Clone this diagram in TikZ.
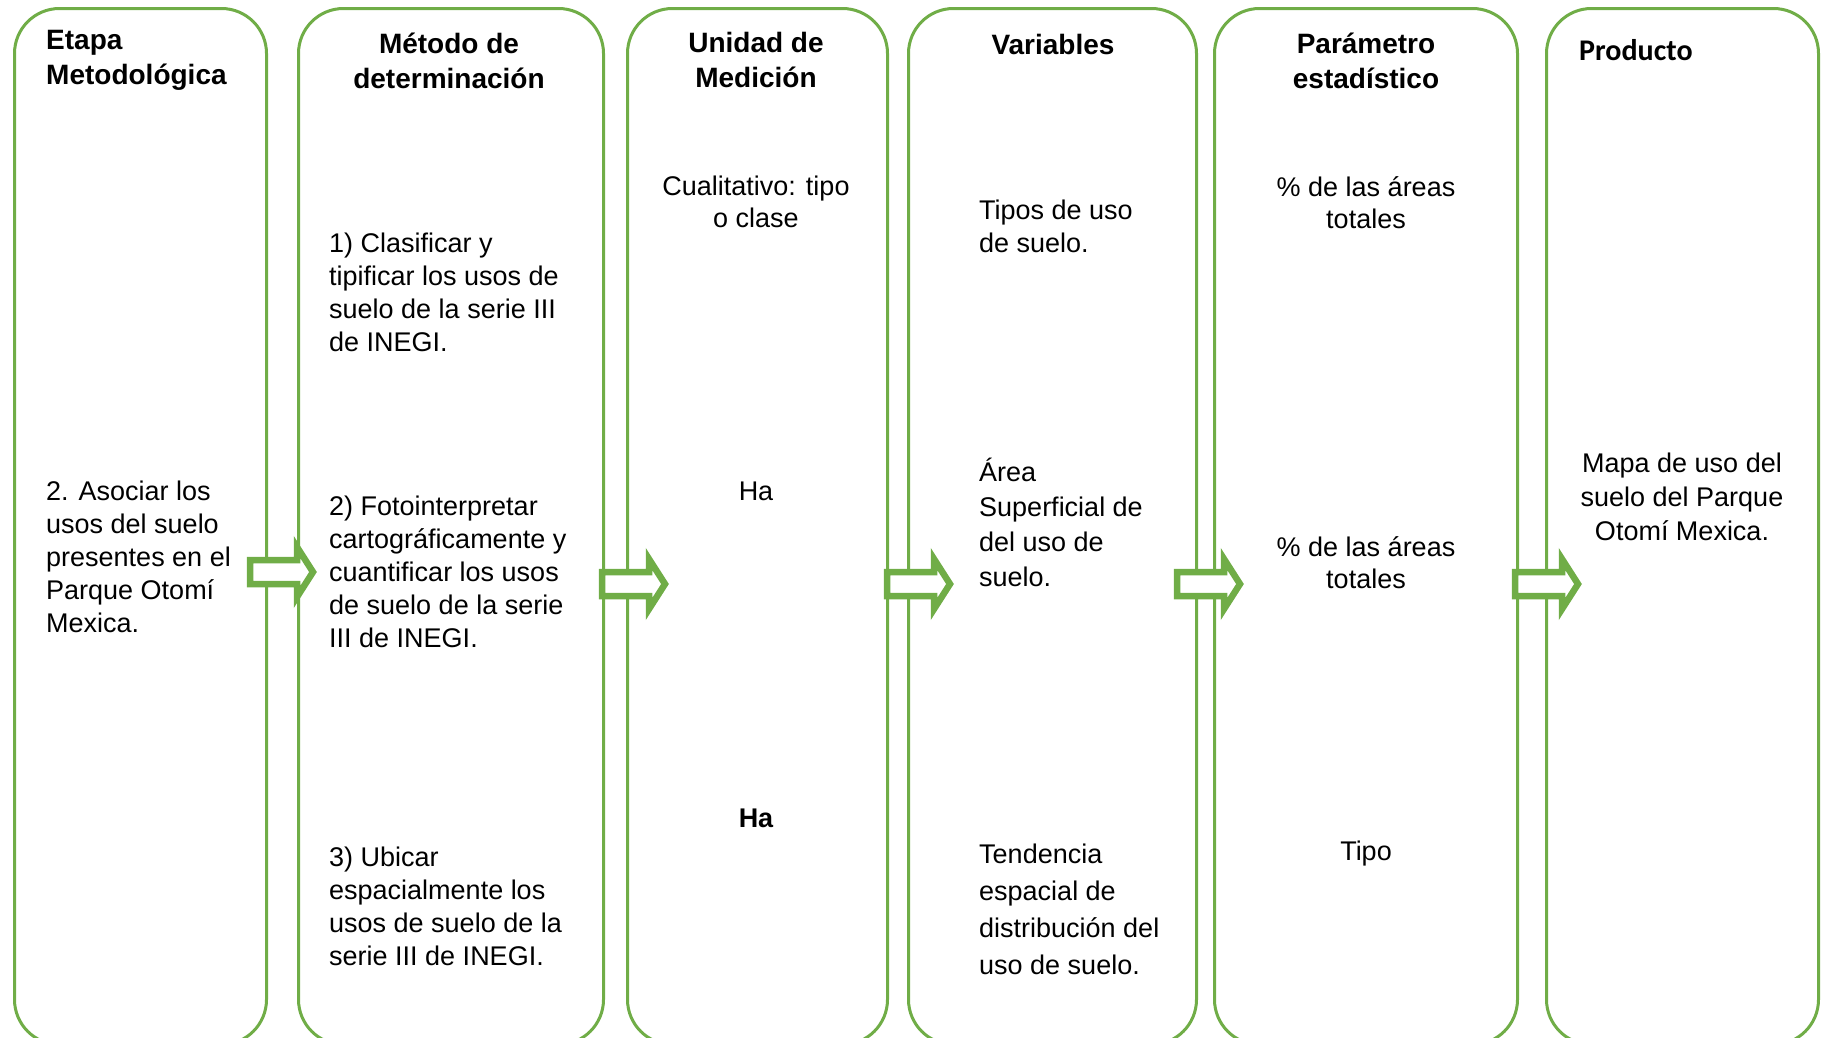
\documentclass[tikz,border=0pt]{standalone}
\usepackage{fontspec}
\setmainfont{Liberation Sans}
\newfontfamily\calibri{Carlito}
\usepackage{tikz}
\usetikzlibrary{positioning}
\definecolor{verde}{RGB}{112,173,71}
\newcommand{\flecha}[1]{\draw[flecha] (#1) ++(0,-12) -- ++(47,0) -- ++(0,-13) -- ++(16,25) -- ++(-16,25) -- ++(0,-13) -- ++(-47,0) -- cycle;}
\begin{document}
\begin{tikzpicture}[x=1pt,y=-1pt]
				\tikzstyle{caja}=[draw=verde, line width=3pt, rounded corners=45pt, anchor=north west, inner sep=0pt, minimum height=1036pt]
				\tikzstyle{flecha}=[draw=verde, line width=6.5pt, fill=white]
				\tikzstyle{titulo}=[font=\bfseries\fontsize{28}{35}\selectfont, align=center, inner sep=0pt]
				\tikzstyle{texto}=[font=\fontsize{27}{33}\selectfont, align=left, anchor=west, inner sep=0pt]
				\tikzstyle{centro}=[font=\fontsize{27}{32}\selectfont, align=center, inner sep=0pt]
				\useasboundingbox (0,0) rectangle (1824,1037);
				\clip (0,0) rectangle (1824,1037);
				\node[caja, minimum width=252pt] (etapa) at (13,7) {};
				\node[caja, minimum width=305pt] (metodo) at (297,7) {};
				\node[caja, minimum width=260pt] (unidad) at (626,7) {};
				\node[caja, minimum width=288pt] (variables) at (907,7) {};
				\node[caja, minimum width=303pt] (parametro) at (1213,7) {};
				\node[caja, minimum width=272pt] (producto) at (1545,7) {};
				\coordinate (f1) at (250,572);
				\coordinate (f2) at (602,584);
				\coordinate (f3) at (887,584);
				\coordinate (f4) at (1177,584);
				\coordinate (f5) at (1515,584);
				\flecha{f1}
				\flecha{f2}
				\flecha{f3}
				\flecha{f4}
				\flecha{f5}
				\node[titulo, align=left, anchor=west] (tetapa) at (46,60) {Etapa\\Metodológica};
				\node[titulo] (tmetodo) at (449,61) {Método de\\determinación};
				\node[titulo] (tunidad) at (756,60) {Unidad de\\Medición};
				\node[titulo] (tvariables) at (1053,44) {Variables};
				\node[titulo] (tparametro) at (1366,61) {Parámetro\\estadístico};
				\node[titulo, anchor=west, font=\calibri\bfseries\fontsize{30}{34}\selectfont] (tproducto) at (1579,50) {Producto};
				\node[texto] (asociar) at (46,557) {2. Asociar los\\usos del suelo\\presentes en el\\Parque Otomí\\Mexica.};
				\node[texto] (clasificar) at (329,292) {1) Clasificar y\\tipificar los usos de\\suelo de la serie III\\de INEGI.};
				\node[texto] (foto) at (329,572) {2) Fotointerpretar\\cartográficamente y\\cuantificar los usos\\de suelo de la serie\\III de INEGI.};
				\node[texto] (ubicar) at (329,906) {3) Ubicar\\espacialmente los\\usos de suelo de la\\serie III de INEGI.};
				\node[centro] (cualitativo) at (756,202) {Cualitativo: tipo\\o clase};
				\node[centro] (ha) at (756,491) {Ha};
				\node[centro, font=\bfseries\fontsize{27}{32}\selectfont] (hab) at (756,818) {Ha};
				\node[texto] (tipos) at (979,226) {Tipos de uso\\de suelo.};
				\node[texto, font=\fontsize{27}{35}\selectfont] (area) at (979,522) {Área\\Superficial de\\del uso de\\suelo.};
				\node[texto, font=\fontsize{27}{37}\selectfont] (tendencia) at (979,909) {Tendencia\\espacial de\\distribución del\\uso de suelo.};
				\node[centro] (pct1) at (1366,203) {\% de las áreas\\totales};
				\node[centro] (pct2) at (1366,563) {\% de las áreas\\totales};
				\node[centro] (tipo) at (1366,854) {Tipo};
				\node[centro, font=\fontsize{27}{34}\selectfont] (mapa) at (1682,497) {Mapa de uso del\\suelo del Parque\\Otomí Mexica.};
			\end{tikzpicture}
\end{document}
